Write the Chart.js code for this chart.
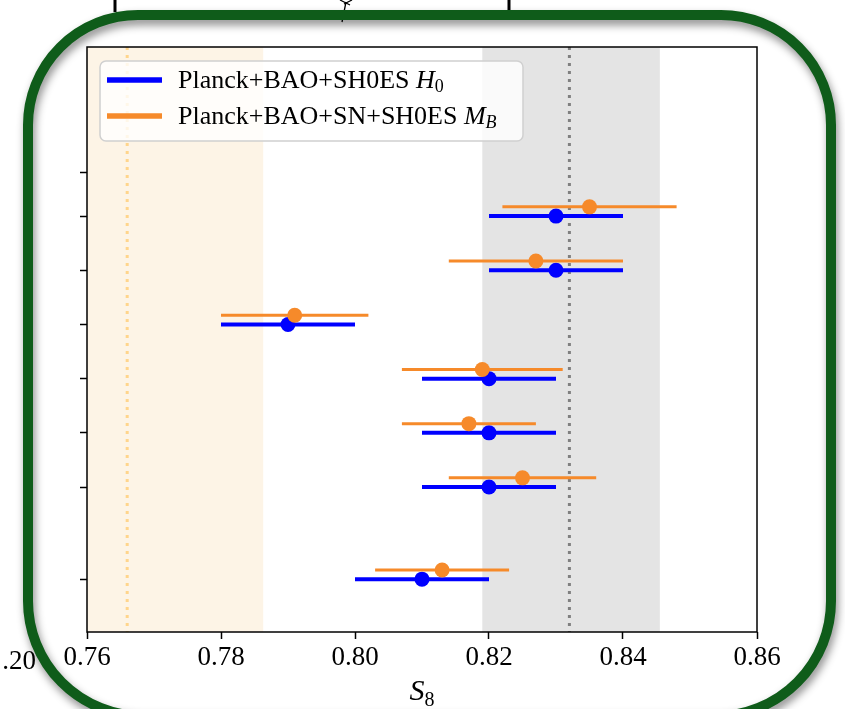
<!DOCTYPE html>
<html>
<head>
<meta charset="utf-8">
<script src="https://cdn.jsdelivr.net/npm/chart.js@4.4.1/dist/chart.umd.min.js"></script>
<style>
  html, body { margin: 0; padding: 0; background: #fff; }
</style>
</head>
<body>
<canvas id="s8Canvas" width="845" height="709"></canvas>
<script>
// row positions (row units, top to bottom) and the y tick marks
const rowPos = [1, 2, 3, 4, 5, 6, 7.7];
const yTickPos = [0.19, 1, 2, 3, 4, 5, 6, 7.7];
const orangeShift = -0.17;

// Planck+BAO+SH0ES H0
const blueS8 = [0.830, 0.830, 0.790, 0.820, 0.820, 0.820, 0.810];
const blueLo = [0.820, 0.820, 0.780, 0.810, 0.810, 0.810, 0.800];
const blueHi = [0.840, 0.840, 0.800, 0.830, 0.830, 0.830, 0.820];

// Planck+BAO+SN+SH0ES MB
const orangeS8 = [0.835, 0.827, 0.791, 0.819, 0.817, 0.825, 0.813];
const orangeLo = [0.822, 0.814, 0.780, 0.807, 0.807, 0.814, 0.803];
const orangeHi = [0.848, 0.840, 0.802, 0.831, 0.827, 0.836, 0.823];

const xTicks = [0.76, 0.78, 0.80, 0.82, 0.84, 0.86];

// reference bands
const planckBand = [0.819, 0.8455];
const planckLine = 0.832;
const lensBand = [0.746, 0.7863];
const lensLine = 0.766;

const BLUE = '#0000ff';
const ORANGE = '#f68a2a';
const SERIF = '"Liberation Serif", "DejaVu Serif", serif';

function vline(ctx, px, top, bottom, color) {
  ctx.save();
  ctx.strokeStyle = color;
  ctx.lineWidth = 3;
  ctx.setLineDash([3, 5]);
  ctx.beginPath();
  ctx.moveTo(px, top);
  ctx.lineTo(px, bottom);
  ctx.stroke();
  ctx.restore();
}

const decor = {
  id: 'decor',
  beforeDatasetsDraw(chart) {
    const { ctx, chartArea: a, scales: { x } } = chart;
    ctx.save();
    ctx.beginPath();
    ctx.rect(a.left, a.top, a.right - a.left, a.bottom - a.top);
    ctx.clip();
    let p0 = x.getPixelForValue(lensBand[0]), p1 = x.getPixelForValue(lensBand[1]);
    ctx.fillStyle = '#fdf4e6';
    ctx.fillRect(p0, a.top, p1 - p0, a.bottom - a.top);
    p0 = x.getPixelForValue(planckBand[0]); p1 = x.getPixelForValue(planckBand[1]);
    ctx.fillStyle = '#e4e4e4';
    ctx.fillRect(p0, a.top, p1 - p0, a.bottom - a.top);
    vline(ctx, x.getPixelForValue(lensLine), a.top, a.bottom, '#ffd58c');
    vline(ctx, x.getPixelForValue(planckLine), a.top, a.bottom, '#808080');
    ctx.restore();
  },
  beforeDatasetDraw(chart, args) {
    const { ctx, scales: { x } } = chart;
    const ds = chart.data.datasets[args.index];
    ctx.save();
    ctx.strokeStyle = ds.errColor;
    ctx.lineWidth = ds.errWidth;
    args.meta.data.forEach((pt, i) => {
      ctx.beginPath();
      ctx.moveTo(x.getPixelForValue(ds.errLo[i]), pt.y);
      ctx.lineTo(x.getPixelForValue(ds.errHi[i]), pt.y);
      ctx.stroke();
    });
    ctx.restore();
  },
  afterDraw(chart) {
    const { ctx, chartArea: a } = chart;
    ctx.save();
    // axes frame
    ctx.strokeStyle = '#000';
    ctx.lineWidth = 1.5;
    ctx.strokeRect(a.left, a.top, a.right - a.left, a.bottom - a.top);

    // legend
    ctx.beginPath();
    ctx.roundRect(100, 61, 423, 80, 6);
    ctx.fillStyle = 'rgba(255,255,255,0.8)';
    ctx.fill();
    ctx.strokeStyle = '#d0d0d0';
    ctx.lineWidth = 1.5;
    ctx.stroke();
    const items = [
      { color: BLUE, text: 'Planck+BAO+SH0ES ', sym: 'H', sub: '0', y: 80 },
      { color: ORANGE, text: 'Planck+BAO+SN+SH0ES ', sym: 'M', sub: 'B', y: 116 }
    ];
    items.forEach(it => {
      ctx.strokeStyle = it.color;
      ctx.lineWidth = 5.5;
      ctx.beginPath();
      ctx.moveTo(107, it.y);
      ctx.lineTo(162, it.y);
      ctx.stroke();
      ctx.fillStyle = '#000';
      ctx.textBaseline = 'alphabetic';
      ctx.textAlign = 'left';
      let tx = 178;
      ctx.font = '26px ' + SERIF;
      ctx.fillText(it.text, tx, it.y + 8);
      tx += ctx.measureText(it.text).width;
      ctx.font = 'italic 26px ' + SERIF;
      ctx.fillText(it.sym, tx, it.y + 8);
      tx += ctx.measureText(it.sym).width;
      ctx.font = (it.sub === 'B' ? 'italic ' : '') + '18px ' + SERIF;
      ctx.fillText(it.sub, tx, it.y + 12);
    });

    // x-axis title S_8
    ctx.fillStyle = '#000';
    ctx.font = 'italic 30px ' + SERIF;
    const sw = ctx.measureText('S').width;
    ctx.font = '20px ' + SERIF;
    const ew = ctx.measureText('8').width;
    const cx = (a.left + a.right) / 2 - (sw + ew) / 2;
    ctx.font = 'italic 30px ' + SERIF;
    ctx.fillText('S', cx, 700);
    ctx.font = '20px ' + SERIF;
    ctx.fillText('8', cx + sw, 706);

    // fragment of neighbouring panel's tick label
    ctx.font = '27px ' + SERIF;
    ctx.textAlign = 'right';
    ctx.fillText('.20', 36, 669);

    // fragments of the panel above
    ctx.strokeStyle = '#000';
    ctx.lineWidth = 3;
    ctx.beginPath();
    ctx.moveTo(115, 0); ctx.lineTo(115, 12);
    ctx.moveTo(509, 0); ctx.lineTo(509, 14);
    ctx.stroke();
    ctx.lineWidth = 1.3;
    ctx.beginPath();
    ctx.moveTo(346, 2); ctx.lineTo(342, 22);
    ctx.moveTo(340, 0); ctx.lineTo(350, 5);
    ctx.moveTo(352, 0); ctx.lineTo(344, 4);
    ctx.stroke();

    // green highlight frame (bottom edge runs just below the picture)
    ctx.shadowColor = 'rgba(0,0,0,0.45)';
    ctx.shadowBlur = 9;
    ctx.shadowOffsetX = 2;
    ctx.shadowOffsetY = 5;
    ctx.strokeStyle = '#0f5c1a';
    ctx.lineWidth = 10;
    ctx.beginPath();
    ctx.roundRect(28, 15, 803, 701, [110, 110, 115, 115]);
    ctx.stroke();
    ctx.restore();
  }
};

const pointsOf = (vals, shift) => rowPos.map((y, i) => ({ x: vals[i], y: y + shift }));

new Chart(document.getElementById('s8Canvas').getContext('2d'), {
  type: 'scatter',
  data: {
    datasets: [
      {
        label: 'Planck+BAO+SN+SH0ES M_B',
        data: pointsOf(orangeS8, orangeShift),
        errLo: orangeLo, errHi: orangeHi, errColor: ORANGE, errWidth: 3,
        backgroundColor: ORANGE, pointBorderWidth: 0, pointRadius: 7.5,
        order: 0
      },
      {
        label: 'Planck+BAO+SH0ES H_0',
        data: pointsOf(blueS8, 0),
        errLo: blueLo, errHi: blueHi, errColor: BLUE, errWidth: 4,
        backgroundColor: BLUE, pointBorderWidth: 0, pointRadius: 7.5,
        order: 1
      }
    ]
  },
  options: {
    responsive: false,
    animation: false,
    events: [],
    layout: { padding: { left: 0, right: 88, top: 47, bottom: 0 } },
    plugins: { legend: { display: false }, tooltip: { enabled: false } },
    scales: {
      x: {
        type: 'linear', min: 0.76, max: 0.86,
        afterBuildTicks: s => { s.ticks = xTicks.map(v => ({ value: v })); },
        afterFit: s => { s.height = 77; },
        border: { display: false },
        grid: { drawOnChartArea: false, drawTicks: true, tickLength: 7, tickWidth: 1.5, tickColor: '#000' },
        ticks: {
          color: '#000', padding: 3, maxRotation: 0,
          font: { family: SERIF, size: 27 },
          callback: v => v.toFixed(2)
        }
      },
      y: {
        type: 'linear', min: -2.12, max: 8.675, reverse: true,
        afterBuildTicks: s => { s.ticks = yTickPos.map(v => ({ value: v })); },
        afterFit: s => { s.width = 87; },
        border: { display: false },
        grid: { drawOnChartArea: false, drawTicks: true, tickLength: 7, tickWidth: 1.5, tickColor: '#000' },
        ticks: { display: false }
      }
    }
  },
  plugins: [decor]
});
</script>
</body>
</html>
